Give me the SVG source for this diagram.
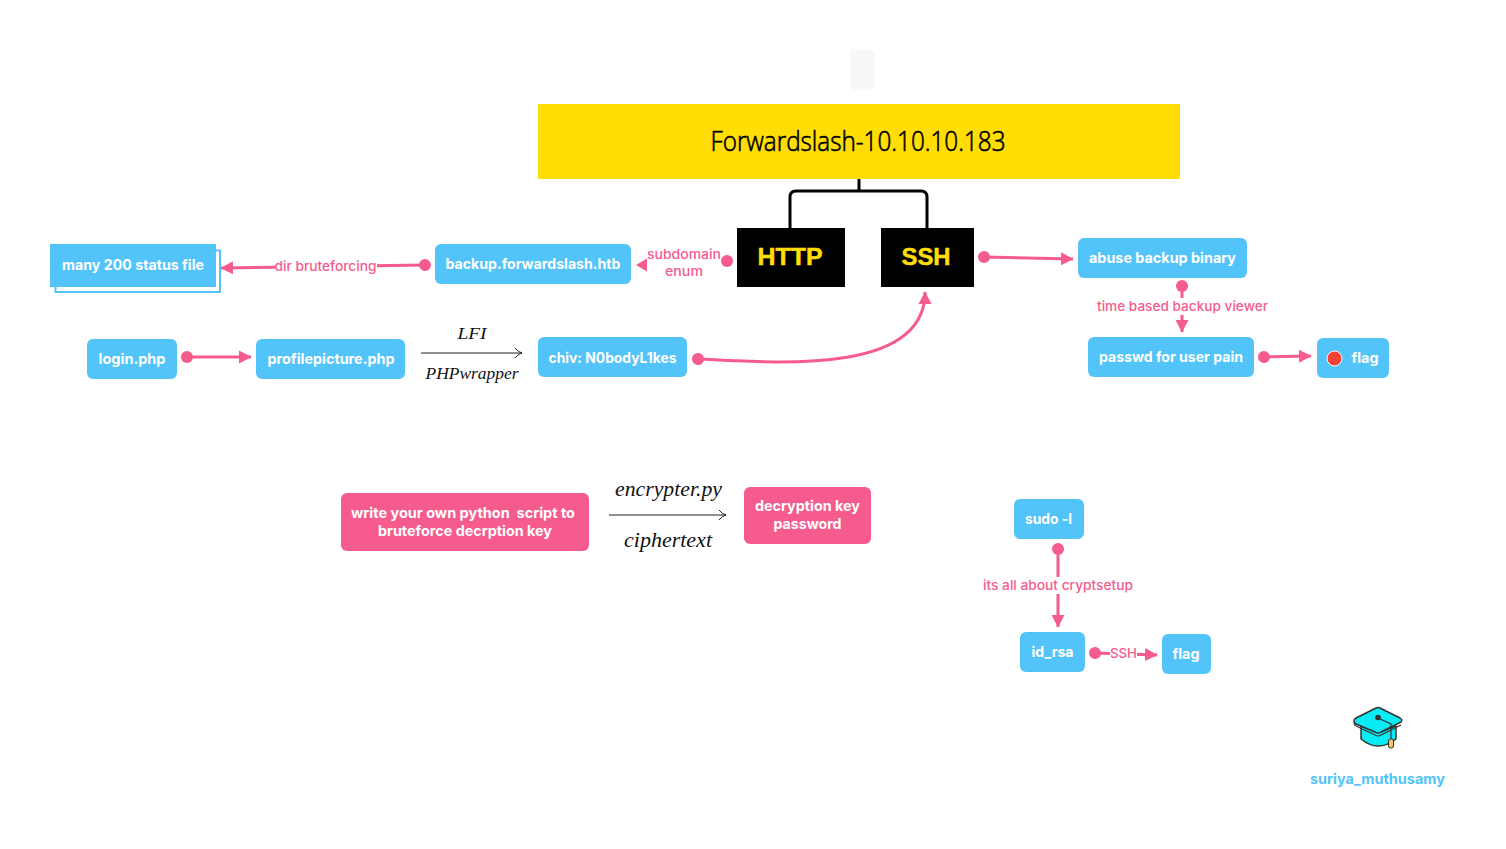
<svg xmlns="http://www.w3.org/2000/svg" width="1506" height="849" viewBox="0 0 1506 849">
<style>
.b{fill:#52c4f9}
.p{fill:#f55b8d}
.t{font-family:"Inter","Noto Sans",sans-serif;font-weight:700;font-size:14.5px;fill:#fff;text-anchor:middle;white-space:pre}
.l{font-family:"Inter","Noto Sans",sans-serif;font-weight:500;font-size:13px;fill:#f55b8d;text-anchor:middle}
.m{font-family:"Liberation Serif",serif;font-style:italic;fill:#111;text-anchor:middle}
.c{fill:none;stroke:#f55b8d;stroke-width:3}
.k{fill:none;stroke:#000;stroke-width:3}
.h{font-family:"Liberation Sans",sans-serif;font-weight:700;font-size:24px;fill:#ffdd05;stroke:#ffdd05;stroke-width:.5;text-anchor:middle}
</style>
<defs>
<marker id="a" markerUnits="userSpaceOnUse" markerWidth="13" markerHeight="14" refX="12" refY="7" orient="auto"><path d="M0 0.500L12.500 7L0 13.500Z" fill="#f55b8d"/></marker>
<marker id="d" markerUnits="userSpaceOnUse" markerWidth="14" markerHeight="14" refX="7" refY="7" orient="auto"><circle cx="7" cy="7" r="6" fill="#f55b8d"/></marker>
<marker id="o" markerUnits="userSpaceOnUse" markerWidth="12" markerHeight="12" refX="11" refY="6" orient="auto"><path d="M4 1Q7 5 11 6Q7 7 4 11" fill="none" stroke="#222" stroke-width="1"/></marker>
</defs>
<g id="connectors">
<path class="k" d="M859 179V191M790 228V197Q790 191 796 191H921Q927 191 927 197V228"/>
<path class="c" marker-start="url(#d)" marker-end="url(#a)" d="M425 265L221 268"/>
<path class="c" marker-start="url(#d)" marker-end="url(#a)" d="M187 357H251"/>
<path class="c" marker-start="url(#d)" marker-end="url(#a)" d="M698 359C790 364 925 372 925 292"/>
<path class="c" marker-start="url(#d)" marker-end="url(#a)" d="M984 257L1073 259"/>
<path class="c" marker-start="url(#d)" marker-end="url(#a)" d="M1182 286V332"/>
<path class="c" marker-start="url(#d)" marker-end="url(#a)" d="M1264 357L1311 356"/>
<path class="c" marker-start="url(#d)" marker-end="url(#a)" d="M1058 549V627"/>
<path class="c" marker-start="url(#d)" marker-end="url(#a)" d="M1095 653L1157 655"/>
<circle cx="727" cy="261" r="6" fill="#f55b8d"/>
<path d="M647 258.500L636 265L647 271.500Z" fill="#f55b8d"/>
<path d="M421 353H522" fill="none" stroke="#222" stroke-width="1" marker-end="url(#o)"/>
<path d="M609 515H726" fill="none" stroke="#222" stroke-width="1" marker-end="url(#o)"/>
<g>
<rect x="275" y="258" width="102" height="18" fill="#fff"/>
<text class="l" x="325.500" y="271" textLength="102" lengthAdjust="spacingAndGlyphs">dir bruteforcing</text>
<text class="l" x="684" y="259" textLength="74" lengthAdjust="spacingAndGlyphs">subdomain</text>
<text class="l" x="684" y="276" textLength="38" lengthAdjust="spacingAndGlyphs">enum</text>
<rect x="1097" y="298" width="171" height="17" fill="#fff"/>
<text class="l" x="1182.500" y="311" textLength="171" lengthAdjust="spacingAndGlyphs">time based backup viewer</text>
<rect x="983" y="577" width="150" height="17" fill="#fff"/>
<text class="l" x="1058" y="590" textLength="150" lengthAdjust="spacingAndGlyphs">its all about cryptsetup</text>
<rect x="1110" y="646" width="27" height="15" fill="#fff"/>
<text class="l" x="1123.500" y="658" textLength="27" lengthAdjust="spacingAndGlyphs">SSH</text>
<text class="m" x="472" y="339" font-size="16" textLength="29" lengthAdjust="spacingAndGlyphs">LFI</text>
<text class="m" x="472" y="379" font-size="16" textLength="93" lengthAdjust="spacingAndGlyphs">PHPwrapper</text>
<text class="m" x="668.500" y="496" font-size="20" textLength="107" lengthAdjust="spacingAndGlyphs">encrypter.py</text>
<text class="m" x="668" y="547" font-size="20" textLength="88" lengthAdjust="spacingAndGlyphs">ciphertext</text>
</g>
</g>
<g id="placeholder"><rect x="850" y="50" width="25" height="40" rx="5" fill="#f8f8f8"/></g>
<g id="title"><rect x="538" y="104" width="642" height="75" fill="#ffdd05"/>
<text x="858" y="151" font-family="'Open Sans',sans-serif" font-weight="300" font-size="27" fill="#000" stroke="#000" stroke-width=".6" text-anchor="middle" textLength="295" lengthAdjust="spacingAndGlyphs">Forwardslash-10.10.10.183</text></g>
<g id="http"><rect x="737" y="228" width="108" height="59"/><text class="h" x="790" y="265" textLength="65" lengthAdjust="spacingAndGlyphs">HTTP</text></g>
<g id="ssh"><rect x="881" y="228" width="93" height="59"/><text class="h" x="926" y="265" textLength="49" lengthAdjust="spacingAndGlyphs">SSH</text></g>
<g id="status"><rect x="55.500" y="250.500" width="164.500" height="41.500" fill="#fff" stroke="#52c4f9" stroke-width="2"/><rect class="b" x="50" y="244" width="166" height="43"/><text class="t" x="133" y="270" textLength="142" lengthAdjust="spacingAndGlyphs">many 200 status file</text></g>
<g id="backup"><rect class="b" x="435" y="244" width="196" height="40" rx="6"/><text class="t" x="533" y="269" textLength="175" lengthAdjust="spacingAndGlyphs">backup.forwardslash.htb</text></g>
<g id="login"><rect class="b" x="87" y="339" width="90" height="40" rx="6"/><text class="t" x="132" y="364" textLength="67" lengthAdjust="spacingAndGlyphs">login.php</text></g>
<g id="profile"><rect class="b" x="256" y="339" width="149" height="40" rx="6"/><text class="t" x="331" y="364" textLength="127" lengthAdjust="spacingAndGlyphs">profilepicture.php</text></g>
<g id="chiv"><rect class="b" x="538" y="337" width="149" height="40" rx="6"/><text class="t" x="612.500" y="363" textLength="128" lengthAdjust="spacingAndGlyphs">chiv: N0bodyL1kes</text></g>
<g id="abuse"><rect class="b" x="1078" y="238" width="169" height="40" rx="6"/><text class="t" x="1162.500" y="263" textLength="147" lengthAdjust="spacingAndGlyphs">abuse backup binary</text></g>
<g id="passwd"><rect class="b" x="1088" y="337" width="166" height="40" rx="6"/><text class="t" x="1171" y="362" textLength="144" lengthAdjust="spacingAndGlyphs">passwd for user pain</text></g>
<g id="flag1"><rect class="b" x="1317" y="338" width="72" height="40" rx="6"/><circle cx="1334.500" cy="358.500" r="7.500" fill="#f44336" stroke="#fff"/><text class="t" x="1365" y="363" textLength="27" lengthAdjust="spacingAndGlyphs">flag</text></g>
<g id="write"><rect class="p" x="341" y="493" width="248" height="58" rx="6"/><text class="t" x="463" y="518" textLength="224" lengthAdjust="spacingAndGlyphs">write your own python  script to</text><text class="t" x="465" y="536" textLength="174" lengthAdjust="spacingAndGlyphs">bruteforce decrption key</text></g>
<g id="decrypt"><rect class="p" x="744" y="487" width="127" height="57" rx="6"/><text class="t" x="807.500" y="511" textLength="105" lengthAdjust="spacingAndGlyphs">decryption key</text><text class="t" x="807.500" y="529" textLength="68" lengthAdjust="spacingAndGlyphs">password</text></g>
<g id="sudo"><rect class="b" x="1014" y="499" width="70" height="40" rx="6"/><text class="t" x="1048.500" y="524" textLength="47" lengthAdjust="spacingAndGlyphs">sudo -l</text></g>
<g id="idrsa"><rect class="b" x="1020" y="632" width="65" height="40" rx="6"/><text class="t" x="1052.500" y="657" textLength="42" lengthAdjust="spacingAndGlyphs">id_rsa</text></g>
<g id="flag2"><rect class="b" x="1162" y="634" width="49" height="40" rx="6"/><text class="t" x="1186" y="659" textLength="27" lengthAdjust="spacingAndGlyphs">flag</text></g>
<g id="logo">
<path d="M1361 726V739Q1378 753 1396 739V726L1378 733Z" fill="#0bebf5" stroke="#333" stroke-width="1.500" stroke-linejoin="round"/>
<path d="M1354 721Q1354 719 1356 718L1376 708Q1378 707 1380 708L1400 718Q1403 720 1401 722L1381 732Q1378 734 1375 732L1356 724Q1354 723 1354 721Z" fill="#0bebf5" stroke="#333" stroke-width="1.500" stroke-linejoin="round"/>
<path d="M1354 723Q1354 725 1356 726L1375 735Q1378 737 1381 735L1401 725" fill="none" stroke="#333" stroke-width="1.200"/>
<circle cx="1378" cy="717.500" r="2.800" fill="#333"/>
<path d="M1378 718L1391 724V740" fill="none" stroke="#333" stroke-width="1.200"/>
<rect x="1388.500" y="739" width="5" height="9" rx="2" fill="#f3c75f" stroke="#333" stroke-width="1"/>
</g>
<g id="credit"><text x="1377.500" y="784" font-family="Inter,'Noto Sans',sans-serif" font-weight="700" font-size="14.500" fill="#52c4f9" text-anchor="middle" textLength="135" lengthAdjust="spacingAndGlyphs">suriya_muthusamy</text></g>
</svg>
